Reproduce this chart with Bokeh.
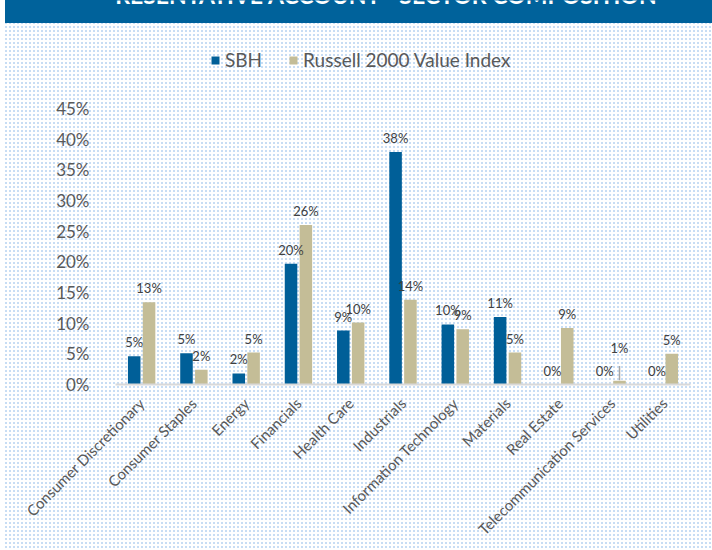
import math
from bokeh.plotting import figure
from bokeh.models import (ColumnDataSource, FactorRange, FixedTicker, NumeralTickFormatter,
                          Label, Legend, LegendItem, Range1d)
from bokeh.transform import dodge
from bokeh.core.properties import value
from bokeh.embed import file_html
from bokeh.resources import INLINE

# ---- data ----
sectors = ["Consumer Discretionary", "Consumer Staples", "Energy", "Financials",
           "Health Care", "Industrials", "Information Technology", "Materials",
           "Real Estate", "Telecommunication Services", "Utilities"]
sbh = [4.6, 5.1, 1.8, 19.7, 8.8, 37.9, 9.8, 11.0, 0.0, 0.0, 0.0]
russell = [13.4, 2.4, 5.2, 26.0, 10.1, 13.8, 9.0, 5.2, 9.2, 0.6, 5.0]
series_names = ["SBH", "Russell 2000 Value Index"]
y_ticks = [0, 5, 10, 15, 20, 25, 30, 35, 40, 45]
title_text = "REPRESENTATIVE ACCOUNT - SECTOR COMPOSITION"

# ---- style ----
BLUE = "#005f98"
TAN = "#c4bd97"
HEADER = "#00629b"
DOT = "#c8ddf4"
FONT = "Lato"
LEFT_GAP = 5
W = 712 - LEFT_GAP
H = 550
HDR_H = 23
FRAME_LEFT = 115 - LEFT_GAP

def pct_label(v):
    return f"{int(math.floor(v + 0.5))}%"

sbh_f = [v / 100 for v in sbh]
rus_f = [v / 100 for v in russell]
# labels of tiny bars are lifted and tied to the bar with a leader line
rus_lbl_y = [v if v >= 0.01 or v == 0 else v + 0.03 for v in rus_f]

src = ColumnDataSource(dict(
    sector=sectors, sbh=sbh_f, rus=rus_f,
    sbh_lbl=[pct_label(v) for v in sbh], rus_lbl=[pct_label(v) for v in russell],
    rus_lbl_y=rus_lbl_y,
))

# the frame reaches the top edge so that the header title and legend are not clipped
frame_top, frame_bottom, tick45_y = 0, 384, 108
y_end = 0.45 * (frame_bottom - frame_top) / (frame_bottom - tick45_y)

p = figure(width=W, height=H, x_range=FactorRange(*sectors), y_range=Range1d(0, y_end),
           output_backend="svg", toolbar_location=None,
           min_border_left=FRAME_LEFT, min_border_right=22, min_border_top=frame_top,
           min_border_bottom=H - frame_bottom)
p.margin = (0, 0, 0, LEFT_GAP)
p.outline_line_color = None
p.background_fill_alpha = 0
p.border_fill_alpha = 0
# header band + dotted page background shown through the transparent canvas
p.styles = {
    "background-color": "#ffffff",
    "background-image": (f"linear-gradient({HEADER}, {HEADER}), "
                         "linear-gradient(90deg, rgba(255,255,255,0) 50%, #ffffff 50%), "
                         "linear-gradient(0deg, rgba(255,255,255,0) 50%, #ffffff 50%), "
                         f"linear-gradient({DOT}, {DOT})"),
    "background-size": f"100% {HDR_H}px, 4px 4px, 4px 4px, 100% 100%",
    "background-repeat": "no-repeat, repeat, repeat, no-repeat",
}

off = 0.142
bw = 0.24
r1 = p.vbar(x=dodge("sector", -off, range=p.x_range), top="sbh", width=bw, source=src,
            fill_color=BLUE, line_color=None)
r2 = p.vbar(x=dodge("sector", off, range=p.x_range), top="rus", width=bw, source=src,
            fill_color=TAN, line_color=None)

# leader lines for lifted labels
lead = [i for i, v in enumerate(rus_f) if 0 < v < 0.01]
if lead:
    p.segment(x0=dodge("x", off, range=p.x_range), x1=dodge("x", off, range=p.x_range),
              y0="y0", y1="y1",
              source=ColumnDataSource(dict(x=[sectors[i] for i in lead],
                                           y0=[rus_f[i] + 0.001 for i in lead],
                                           y1=[rus_lbl_y[i] - 0.006 for i in lead])),
              line_color="#a6a6a6", line_width=1.5)

lbl_kw = dict(text_font=value(FONT), text_font_size="13px", text_color="#404040",
              text_align="center", text_baseline="alphabetic", y_offset=-14)
p.text(x=dodge("sector", -off, range=p.x_range), y="sbh", text="sbh_lbl", source=src, **lbl_kw)
p.text(x=dodge("sector", off, range=p.x_range), y="rus_lbl_y", text="rus_lbl", source=src, **lbl_kw)

# axes
p.xgrid.grid_line_color = None
p.ygrid.grid_line_color = None
p.yaxis.ticker = FixedTicker(ticks=[t / 100 for t in y_ticks])
p.yaxis.formatter = NumeralTickFormatter(format="0%")
p.yaxis.axis_line_color = None
p.yaxis.major_tick_line_color = None
p.yaxis.minor_tick_line_color = None
p.yaxis.major_label_text_font = FONT
p.yaxis.major_label_text_font_size = "17px"
p.yaxis.major_label_text_color = "#595959"
p.yaxis.major_label_standoff = 20

p.xaxis.axis_line_color = "#d9d9d9"
p.xaxis.axis_line_width = 2
p.xaxis.major_tick_line_color = None
p.xaxis.minor_tick_line_color = None
p.xaxis.major_label_orientation = math.pi / 4
p.xaxis.major_label_text_font = FONT
p.xaxis.major_label_text_font_size = "15px"
p.xaxis.major_label_text_color = "#595959"
p.xaxis.major_label_standoff = 10

# legend
legend = Legend(items=[LegendItem(label=series_names[0], renderers=[r1]),
                       LegendItem(label=series_names[1], renderers=[r2])],
                orientation="horizontal", location=(95, 313),
                glyph_width=10, glyph_height=10, label_standoff=5, spacing=26,
                padding=0, margin=0, border_line_color=None, background_fill_alpha=0,
                label_text_font=FONT, label_text_font_size="19px", label_text_color="#595959")
p.add_layout(legend)

# header title (mostly cut off by the top edge, as in the source)
p.add_layout(Label(x=365 - 115, y=frame_bottom + 6, x_units="screen", y_units="screen",
                   text=title_text, text_align="center", text_baseline="alphabetic",
                   text_color="white", text_font=FONT, text_font_style="bold",
                   text_font_size="23px"))

open("out.html", "w").write(file_html(p, INLINE))
